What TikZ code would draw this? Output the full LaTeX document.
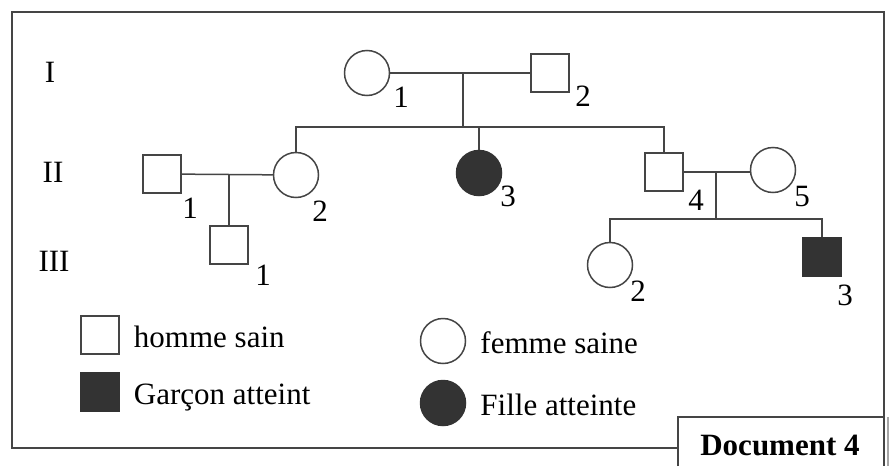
\documentclass[tikz,border=0pt]{standalone}
\usepackage{fontspec}
\setmainfont{Liberation Serif}
\usetikzlibrary{positioning}
\definecolor{trait}{gray}{0.27}
\definecolor{atteint}{gray}{0.2}
\tikzstyle{homme} = [rectangle, draw=trait, line width=1.5pt, fill=white,
	minimum size=38pt, inner sep=0pt]
\tikzstyle{femme} = [circle, draw=trait, line width=1.5pt, fill=white,
	minimum size=45pt, inner sep=0pt]
\tikzstyle{garcon} = [homme, fill=atteint, draw=atteint]
\tikzstyle{fille} = [femme, fill=atteint, draw=atteint]
\tikzstyle{num} = [font=\fontsize{31}{33}\selectfont, inner sep=0pt]
\tikzstyle{gen} = [font=\fontsize{31}{33}\selectfont, inner sep=0pt]
\tikzstyle{legende} = [font=\fontsize{31}{33}\selectfont, inner sep=0pt,
	text height=25pt, text depth=0pt]
\tikzstyle{lien} = [draw=trait, line width=1.5pt]

\begin{document}
\begin{tikzpicture}[x=1pt, y=-1pt, node distance=14pt]
		\useasboundingbox (0,0) rectangle (889,466);
		\fill[white] (0,0) rectangle (889,466);
		
		%Frame
		\draw[lien, line width=1.8pt] (678,448) -| (12,12) -| (884,466);
		\draw[lien, line width=1.8pt] (678,466) |- (884,417);
		\draw[gray!70, line width=3pt] (888,417) -- (888,466);
		\node[font=\bfseries\fontsize{31}{33}\selectfont, anchor=base] (doc) at (780,455) {Document 4};
		
		%Place node
		\node[gen] (gI) at (50,72) {I};
		\node[gen] (gII) at (53,172) {II};
		\node[gen] (gIII) at (54,261) {III};
		
		\node[femme] (i1) at (367,73) {};
		\node[homme] (i2) at (550,73) {};
		\node[homme] (ii1) at (162,174) {};
		\node[femme] (ii2) at (296,175) {};
		\node[fille] (ii3) at (479,173) {};
		\node[homme] (ii4) at (664,172) {};
		\node[femme] (ii5) at (773,170) {};
		\node[homme] (iii1) at (229,245) {};
		\node[femme] (iii2) at (610,265) {};
		\node[garcon] (iii3) at (822,257) {};
		
		\coordinate (c1) at (463,73);
		\coordinate (sib1) at (463,127);
		\coordinate (c2) at (229,174.5);
		\coordinate (c3) at (716,172);
		\coordinate (sib3) at (716,219);
		
		%Numbers
		\node[num] (n-i1) at (401,97) {1};
		\node[num] (n-i2) at (583,96) {2};
		\node[num] (n-ii1) at (190,208) {1};
		\node[num] (n-ii2) at (320,211) {2};
		\node[num] (n-ii3) at (508,196) {3};
		\node[num] (n-ii4) at (696,200) {4};
		\node[num] (n-ii5) at (802,196) {5};
		\node[num] (n-iii1) at (263,275) {1};
		\node[num] (n-iii2) at (638,291) {2};
		\node[num] (n-iii3) at (845,295) {3};
		
		%Draw edges
		\draw[lien] (i1) -- (i2);
		\draw[lien] (c1) -- (sib1);
		\draw[lien] (ii2.north) |- (sib1) -| (ii4.north);
		\draw[lien] (ii3) -- (ii3 |- sib1);
		\draw[lien] (ii1) -- (ii2);
		\draw[lien] (c2) -- (iii1);
		\draw[lien] (ii4.east) -- (ii4.east -| ii5.west);
		\draw[lien] (c3) -- (sib3);
		\draw[lien] (iii2.north) |- (sib3) -| (iii3.north);
		
		%Legend
		\node[homme] (lhs) at (100,335) {};
		\node[legende, right=of lhs, anchor=west] (ths) {homme sain};
		\node[garcon] (lga) at (100,392) {};
		\node[legende, right=of lga, anchor=west] (tga) {Garçon atteint};
		\node[femme] (lfs) at (443,341) {};
		\node[legende, right=of lfs, anchor=west] (tfs) {femme saine};
		\node[fille] (lfa) at (443,403) {};
		\node[legende, right=of lfa, anchor=west] (tfa) {Fille atteinte};
		
	\end{tikzpicture}
\end{document}
